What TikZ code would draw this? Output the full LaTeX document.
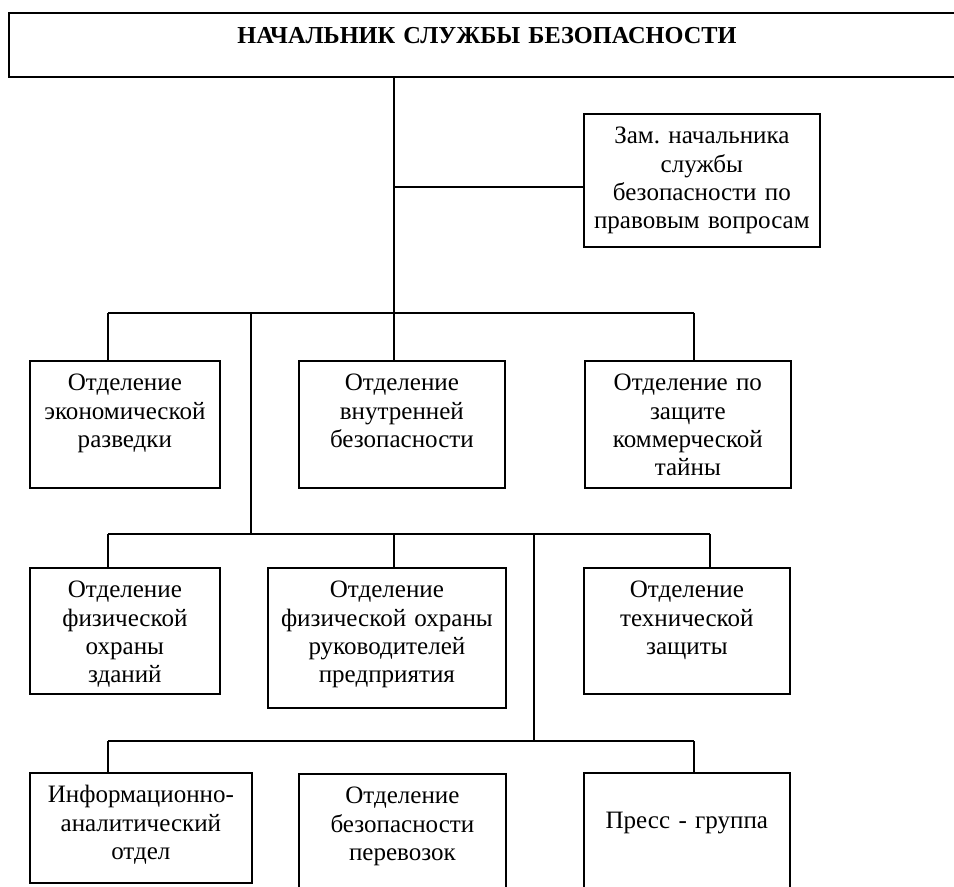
\documentclass[tikz,border=0pt]{standalone}
\usepackage{fontspec}
\setmainfont{Liberation Serif}

\begin{document}
\begin{tikzpicture}[x=0.025cm, y=-0.025cm]
    \tikzset{
      unit/.style={draw, line width=1.2pt, anchor=north west, inner sep=0pt,
        align=center, text height=0.75cm,
        font=\fontsize{17.8}{20.1}\selectfont\frenchspacing},
      link/.style={line width=1pt},
    }
    \useasboundingbox (0,0) rectangle (954,887);

    \node [unit, text width=24.5cm, text height=0.7625cm, text depth=0.8375cm,
      font=\fontsize{17.3}{20.1}\selectfont\bfseries] (chief) at (8,12)
      {\hspace*{-0.6cm}НАЧАЛЬНИК СЛУЖБЫ БЕЗОПАСНОСТИ};
    \node [unit, text width=5.9cm, text depth=2.575cm] (deputy) at (583,113)
      {Зам. начальника\\службы\\безопасности по\\правовым вопросам};

    \node [unit, text width=4.75cm, text depth=2.425cm] (econ) at (29,360)
      {Отделение\\экономической\\разведки};
    \node [unit, text width=5.15cm, text depth=2.425cm] (inner) at (298,360)
      {Отделение\\внутренней\\безопасности};
    \node [unit, text width=5.15cm, text depth=2.425cm] (secret) at (584,360)
      {Отделение по\\защите\\коммерческой\\тайны};

    \node [unit, text width=4.75cm, text depth=2.4cm] (guard) at (29,567)
      {Отделение\\физической\\охраны\\зданий};
    \node [unit, text width=5.95cm, text depth=2.75cm] (heads) at (267,567)
      {Отделение\\физической охраны\\руководителей\\предприятия};
    \node [unit, text width=5.15cm, text depth=2.4cm] (tech) at (583,567)
      {Отделение\\технической\\защиты};

    \node [unit, text width=5.55cm, text depth=2.0cm] (info) at (29,772)
      {Информационно-\\аналитический\\отдел};
    \node [unit, text width=5.175cm, text depth=2.5cm] (transport) at (298,773)
      {Отделение\\безопасности\\перевозок};
    \node [unit, text width=5.15cm, text height=1.4cm, text depth=1.85cm] (press) at (583,772)
      {Пресс - группа};

    % junctions
    \coordinate (j0) at (394,187);
    \coordinate (j1) at (394,313);
    \coordinate (b1l) at (108,313);
    \coordinate (b1r) at (694,313);
    \coordinate (k1) at (251,313);
    \coordinate (b2l) at (108,534);
    \coordinate (j2) at (394,534);
    \coordinate (b2r) at (710,534);
    \coordinate (k2) at (251,534);
    \coordinate (m2) at (534,534);
    \coordinate (b3l) at (108,741);
    \coordinate (m3) at (534,741);
    \coordinate (b3r) at (694,741);

    \draw [link] (chief.south -| j1) -- (j1);
    \draw [link] (j0) -- (deputy.west |- j0);
    \draw [link] (b1l) -- (b1r);
    \foreach \j/\n in {b1l/econ, j1/inner, b1r/secret}
      \draw [link] (\j) -- (\j |- \n.north);
    \draw [link] (k1) -- (k2);
    \draw [link] (b2l) -- (b2r);
    \foreach \j/\n in {b2l/guard, j2/heads, b2r/tech}
      \draw [link] (\j) -- (\j |- \n.north);
    \draw [link] (m2) -- (m3);
    \draw [link] (b3l) -- (b3r);
    \foreach \j/\n in {b3l/info, b3r/press}
      \draw [link] (\j) -- (\j |- \n.north);
  \end{tikzpicture}
\end{document}
